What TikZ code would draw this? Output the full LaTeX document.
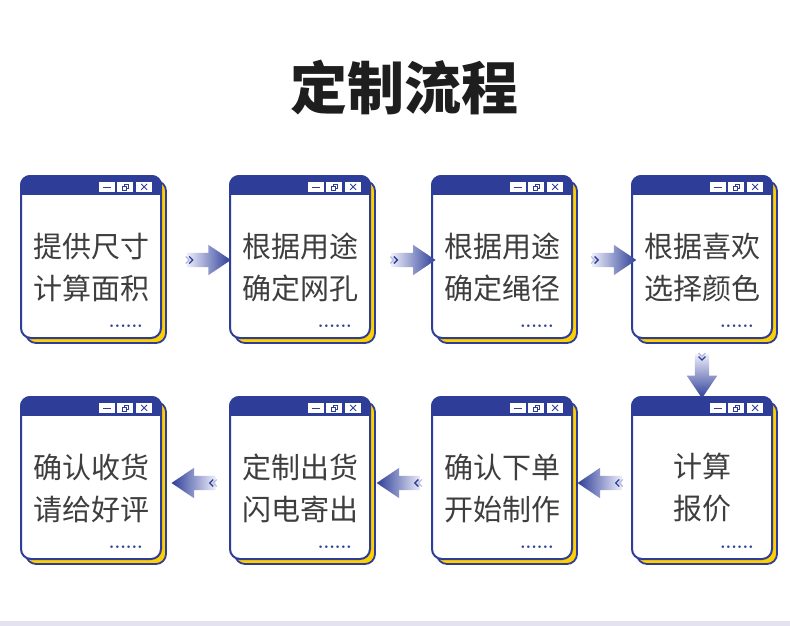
\documentclass[tikz,border=0pt]{standalone}
\usepackage{fontspec}
\usepackage{tikz}
\usetikzlibrary{positioning,calc,shapes.arrows}
\newfontfamily\cjk{Noto Sans CJK SC}
\definecolor{navy}{RGB}{46,62,152}
\definecolor{sunny}{RGB}{255,208,0}
\definecolor{inkgray}{RGB}{62,62,62}
\definecolor{pale}{RGB}{236,237,250}
\definecolor{strip}{RGB}{228,226,240}
\definecolor{titleink}{RGB}{30,30,30}

\newcommand\flowchev[2]{%
  \begin{scope}[shift={(#1.tail)},rotate=#2]
    \draw[navy!35,line width=1.2pt] (-1,-3.5) -- (2.5,0) -- (-1,3.5);
    \draw[navy,line width=1.3pt] (2.5,-3.5) -- (6,0) -- (2.5,3.5);
  \end{scope}}

\begin{document}
\begin{tikzpicture}[x=1pt,y=-1pt,
  win/.style={draw=navy,line width=2pt,fill=white,rounded corners=10pt,
    minimum width=140pt,minimum height=162pt,inner sep=0pt},
  backwin/.style={draw=navy,line width=1.8pt,fill=sunny,rounded corners=10pt},
  btn/.style={draw=navy,line width=0.8pt,fill=white,minimum width=17pt,
    minimum height=11pt,inner sep=0pt},
  icon/.style={navy,line width=0.8pt},
  wintext/.style={font=\cjk\fontsize{29}{42}\selectfont,text=inkgray,align=center},
  dotrow/.style={font=\bfseries\fontsize{18}{18}\selectfont,text=navy,inner sep=0pt},
  flow/.style={single arrow,minimum height=44pt,
    single arrow head extend=8pt,single arrow tip angle=68,draw=none},
  flowR/.style={flow,inner xsep=0pt,inner ysep=7pt,left color=pale,right color=navy},
  flowL/.style={flow,inner xsep=0pt,inner ysep=7pt,shape border rotate=180,left color=navy,right color=pale},
  flowD/.style={flow,inner xsep=7pt,inner ysep=0pt,shape border rotate=270,top color=pale,bottom color=navy}
]

\useasboundingbox (0,0) rectangle (790,626);
\fill[white] (0,0) rectangle (790,626);
\fill[strip] (0,621) rectangle (790,626);

\node[font=\cjk\bfseries\fontsize{57}{57}\selectfont,text=titleink] (title) at (404,87) {定制流程};

% windows
\foreach \n/\x/\y/\t in {1/21/176/{提供尺寸\\计算面积},
                         2/230/176/{根据用途\\确定网孔},
                         3/432/176/{根据用途\\确定绳径},
                         4/632/176/{根据喜欢\\选择颜色},
                         5/632/397/{计算\\报价},
                         6/432/397/{确认下单\\开始制作},
                         7/230/397/{定制出货\\闪电寄出},
                         8/21/397/{确认收货\\请给好评}}{
  \draw[backwin] (\x+5,\y+5) rectangle (\x+145,\y+167);
  \node[win] (w\n) at (\x+70,\y+81) {};
  \begin{scope}
    \clip[rounded corners=10pt] (w\n.north west) rectangle (w\n.south east);
    \fill[navy] (w\n.north west) rectangle ($(w\n.north east)+(0,20)$);
  \end{scope}
  \node[btn,anchor=north east] (c\n) at ($(w\n.north east)+(-9,6)$) {};
  \node[btn,left=1pt of c\n] (r\n) {};
  \node[btn,left=1pt of r\n] (m\n) {};
  \draw[icon] ($(m\n)+(-4,0)$) -- ($(m\n)+(4,0)$);
  \draw[icon] ($(r\n)+(-3,-1)$) rectangle ($(r\n)+(1,3)$);
  \draw[icon] ($(r\n)+(-1,-1)$) -- ($(r\n)+(-1,-3)$) -- ($(r\n)+(3,-3)$) -- ($(r\n)+(3,1)$) -- ($(r\n)+(1,1)$);
  \draw[icon] ($(c\n)+(-3,-3)$) -- ($(c\n)+(3,3)$) ($(c\n)+(-3,3)$) -- ($(c\n)+(3,-3)$);
  \node[wintext] (t\n) at ($(w\n.center)+(0,10)$) {\t};
  \node[dotrow,anchor=east] (d\n) at ($(w\n.south east)+(-19,-13)$) {......};
}

% arrows
\node[flowR] (a12) at ($(w1.east)!0.62!(w2.west)+(0,3)$) {};
\node[flowR] (a23) at ($(w2.east)!0.62!(w3.west)+(0,3)$) {};
\node[flowR] (a34) at ($(w3.east)!0.62!(w4.west)+(0,3)$) {};
\node[flowD] (a45) at ($(w4.south)!0.56!(w5.north)$) {};
\node[flowL] (a56) at ($(w6.east)!0.55!(w5.west)+(0,5)$) {};
\node[flowL] (a67) at ($(w7.east)!0.55!(w6.west)+(0,5)$) {};
\node[flowL] (a78) at ($(w8.east)!0.55!(w7.west)+(0,5)$) {};
\flowchev{a12}{0}
\flowchev{a23}{0}
\flowchev{a34}{0}
\flowchev{a45}{-90}
\flowchev{a56}{180}
\flowchev{a67}{180}
\flowchev{a78}{180}

\end{tikzpicture}
\end{document}
